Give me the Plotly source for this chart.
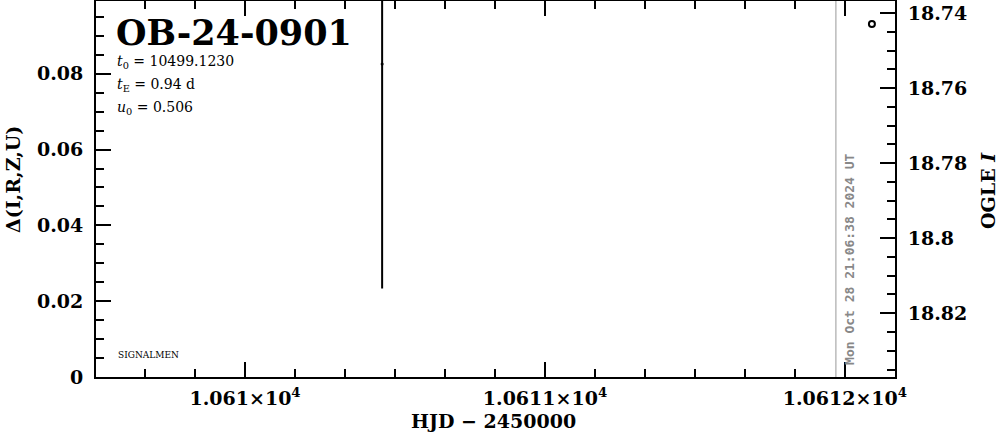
import plotly.graph_objects as go

# ---- data ----
event_name = "OB-24-0901"
param_lines = ["<i>t</i><sub>0</sub> = 10499.1230", "<i>t</i><sub>E</sub> = 0.94 d", "<i>u</i><sub>0</sub> = 0.506"]
delta_hjd = [10610.457]
delta_val = [0.0826]
delta_err = [0.059]
ogle_hjd = [10612.09]
ogle_mag = [18.7429]
now_hjd = 10611.97
now_label = "Mon Oct 28 21:06:38 2024 UT"
x_tickvals = [10610, 10611, 10612]
x_ticktext = ["1.061×10<sup>4</sup>", "1.0611×10<sup>4</sup>", "1.0612×10<sup>4</sup>"]
y_tickvals = [0, 0.02, 0.04, 0.06, 0.08]
y_ticktext = ["0", "0.02", "0.04", "0.06", "0.08"]
y2_tickvals = [18.74, 18.76, 18.78, 18.80, 18.82]
y2_ticktext = ["18.74", "18.76", "18.78", "18.8", "18.82"]

FONT = "DejaVu Serif"
ML, MR, MT, MB = 96, 104, 1, 57
W, H = 999, 434
PW, PH = W - ML - MR, H - MT - MB


def px_x(p):
    return (p - ML) / PW


def px_y(p):
    return (H - MB - p) / PH


fig = go.Figure()
fig.add_trace(go.Scatter(
    x=delta_hjd, y=delta_val, mode="markers",
    marker=dict(size=3, color="black"),
    error_y=dict(type="data", array=delta_err, visible=True, color="black", thickness=2, width=1),
    showlegend=False, yaxis="y"))
fig.add_trace(go.Scatter(
    x=ogle_hjd, y=ogle_mag, mode="markers",
    marker=dict(size=6, color="white", symbol="circle", line=dict(color="black", width=2)),
    showlegend=False, yaxis="y2"))

fig.add_shape(type="line", xref="x", yref="paper", x0=now_hjd, x1=now_hjd, y0=0, y1=1,
              line=dict(color="#999999", width=1))
fig.add_annotation(x=now_hjd, xref="x", y=px_y(367), yref="paper", text=now_label, textangle=-90,
                   showarrow=False, xanchor="left", yanchor="bottom", xshift=4,
                   font=dict(family="DejaVu Sans Mono", size=13, color="#888888", weight="bold"))

fig.add_annotation(x=px_x(114), y=px_y(32), xref="paper", yref="paper", text=event_name, showarrow=False,
                   xanchor="left", yanchor="middle",
                   font=dict(family=FONT, size=35, color="black", weight="bold"))
for i, t in enumerate(param_lines):
    fig.add_annotation(x=px_x(115), y=px_y(62 + 23 * i), xref="paper", yref="paper", text=t,
                       showarrow=False, xanchor="left", yanchor="middle",
                       font=dict(family=FONT, size=14, color="black"))
fig.add_annotation(x=px_x(116), y=px_y(355), xref="paper", yref="paper", text="SIGNALMEN", showarrow=False,
                   xanchor="left", yanchor="middle", font=dict(family=FONT, size=9, color="black"))

# axis titles
title_font = dict(family=FONT, size=19, color="black", weight="bold")
fig.add_annotation(x=px_x(493), y=px_y(421), xref="paper", yref="paper", text="HJD − 2450000",
                   showarrow=False, xanchor="center", yanchor="middle", font=title_font)
fig.add_annotation(x=px_x(13), y=px_y(180), xref="paper", yref="paper", text="Δ(I,R,Z,U)",
                   showarrow=False, xanchor="center", yanchor="middle", textangle=-90, font=title_font)
fig.add_annotation(x=px_x(988), y=px_y(191), xref="paper", yref="paper", text="OGLE <i>I</i>",
                   showarrow=False, xanchor="center", yanchor="middle", textangle=-90, font=title_font)

axis_common = dict(showline=True, linewidth=2, linecolor="black", ticks="inside", ticklen=15,
                   tickwidth=2, tickcolor="black", showgrid=False, zeroline=False, automargin=False,
                   tickfont=dict(family=FONT, size=19, color="black", weight="bold"))

fig.update_layout(
    width=W, height=H, paper_bgcolor="white", plot_bgcolor="white",
    margin=dict(l=ML, r=MR, t=MT, b=MB, autoexpand=False),
    xaxis=dict(range=[10609.503, 10612.167], tickmode="array", tickvals=x_tickvals, ticktext=x_ticktext,
               mirror="ticks", minor=dict(ticks="inside", ticklen=8, tickwidth=2, tickcolor="black",
                                         tick0=10610, dtick=1 / 6),
               ticklabelstandoff=3, **axis_common),
    yaxis=dict(range=[0, 0.0992], tickmode="array", tickvals=y_tickvals, ticktext=y_ticktext,
               minor=dict(ticks="inside", ticklen=8, tickwidth=2, tickcolor="black", tick0=0, dtick=0.005),
               ticklabelstandoff=7, **axis_common),
    yaxis2=dict(range=[18.837, 18.7368], overlaying="y", side="right", tickmode="array",
                tickvals=y2_tickvals, ticktext=y2_ticktext,
                minor=dict(ticks="inside", ticklen=8, tickwidth=2, tickcolor="black", tick0=18.74, dtick=0.005),
                ticklabelstandoff=7, **axis_common),
)

fig.write_html("out.html", config={"displayModeBar": False},
               post_script="document.body.style.margin='0';document.body.style.overflow='hidden';")
